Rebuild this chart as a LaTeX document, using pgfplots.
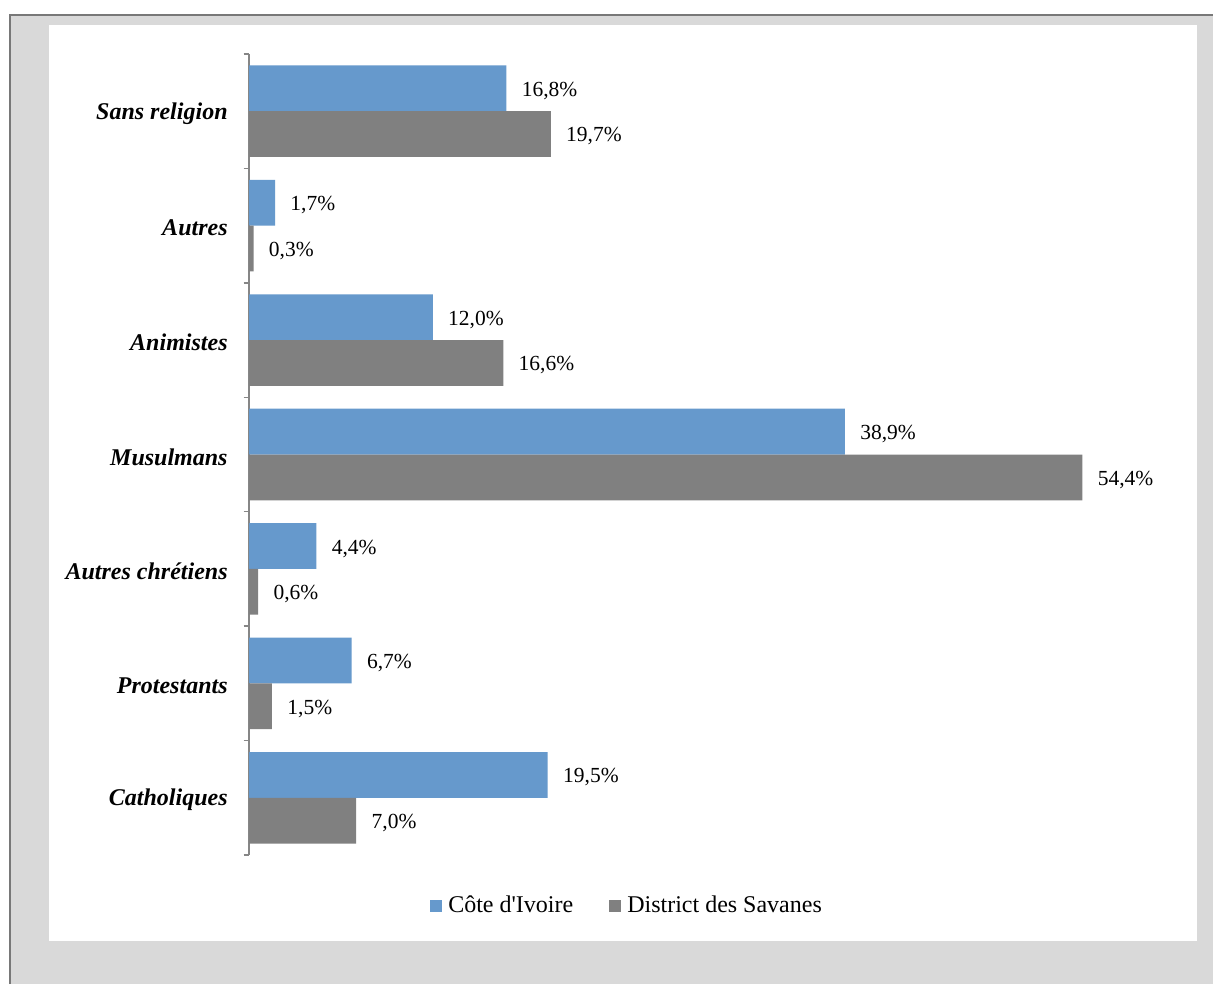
\documentclass[border=0pt]{standalone}
\usepackage{fontspec}
\setmainfont{Liberation Serif}
\usepackage{pgfplots}
\usepackage{pgfplotstable}
\pgfplotsset{compat=1.18}
\definecolor{ciblue}{RGB}{102,153,204}
\definecolor{dsgray}{RGB}{128,128,128}
\definecolor{bggray}{RGB}{217,217,217}
\definecolor{framegray}{RGB}{120,120,120}
\definecolor{axgray}{RGB}{134,134,134}

\pgfplotstableread{
y ci cilab ds dslab
0 19.5 19,5 7.0 7,0
1 6.7 6,7 1.5 1,5
2 4.4 4,4 0.6 0,6
3 38.9 38,9 54.4 54,4
4 12.0 12,0 16.6 16,6
5 1.7 1,7 0.3 0,3
6 16.8 16,8 19.7 19,7
}\data

\begin{document}
\begin{tikzpicture}
\path[use as bounding box] (0pt,0pt) rectangle (606.5pt,492pt);
\fill[white] (0pt,0pt) rectangle (606.5pt,492pt);
\fill[bggray] (5pt,0pt) rectangle (606.5pt,484.5pt);
\draw[framegray, line width=1pt] (5pt,0pt) -- (5pt,484.5pt) -- (606.5pt,484.5pt);
\fill[white] (24.5pt,21.5pt) rectangle (598.5pt,479.5pt);
\begin{axis}[
  at={(124.5pt,64.5pt)}, anchor=south west,
  scale only axis,
  width=459.6pt, height=400.5pt,
  xmin=0, xmax=60, ymin=-0.5, ymax=6.5,
  enlargelimits=false,
  hide x axis,
  axis y line*=left,
  y axis line style={axgray, line width=0.75pt},
  ytick={0,1,2,3,4,5,6},
  yticklabels={Catholiques,Protestants,Autres chrétiens,Musulmans,Animistes,Autres,Sans religion},
  major tick length=0pt,
  minor ytick={-0.5,0.5,1.5,2.5,3.5,4.5,5.5,6.5},
  minor tick length=2.75pt,
  tick align=outside,
  minor tick style={axgray, line width=0.75pt},
  yticklabel style={font=\fontsize{12}{14}\selectfont\bfseries\itshape, inner sep=0pt, xshift=-10.5pt, yshift=-1.2pt},
  nodes near coords={\pgfplotspointmeta\%},
  every node near coord/.append style={font=\fontsize{10.75}{13}\selectfont, inner sep=0pt, anchor=west, xshift=7.5pt, text=black},
  legend columns=2,
  legend style={at={(0.4135,-0.0635)}, anchor=center, draw=none, fill=none,
    font=\fontsize{12}{14}\selectfont, inner sep=0pt,
    nodes={inner xsep=3pt},
    /tikz/every even column/.append style={column sep=15pt}},
  legend image code/.code={\fill[#1] (0pt,-3pt) rectangle (6pt,3pt);},
]
\addplot[xbar, fill=ciblue, draw=none, bar width=0.4, bar shift=0.2,
  point meta=explicit symbolic,
  every node near coord/.append style={yshift=10.2pt}] table[x=ci, y=y, meta=cilab] {\data};
\addplot[xbar, fill=dsgray, draw=none, bar width=0.4, bar shift=-0.2,
  point meta=explicit symbolic,
  every node near coord/.append style={yshift=-12.6pt}] table[x=ds, y=y, meta=dslab] {\data};
\legend{C\^ote d\textquotesingle Ivoire, District des Savanes}
\end{axis}
\end{tikzpicture}
\end{document}
